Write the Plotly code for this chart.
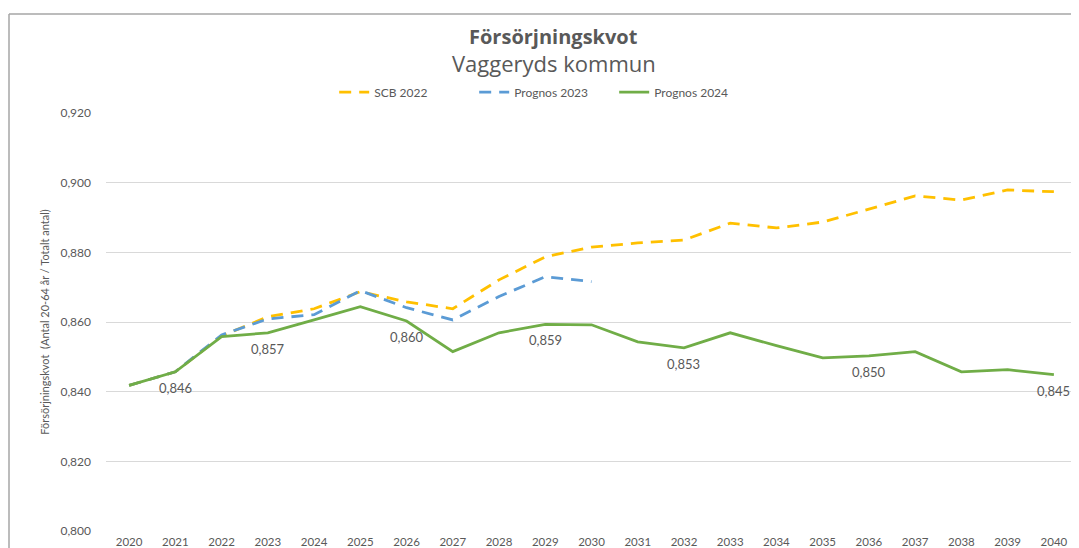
import plotly.graph_objects as go

years = [str(y) for y in range(2020, 2041)]

scb_2022 = [0.8418, 0.8457, 0.8560, 0.8615, 0.8638, 0.8687, 0.8658, 0.8638, 0.8721, 0.8787,
            0.8815, 0.8827, 0.8835, 0.8884, 0.8870, 0.8887, 0.8924, 0.8962, 0.8950, 0.8979, 0.8974]
prognos_2023 = [0.8418, 0.8457, 0.8563, 0.8609, 0.8621, 0.8690, 0.8641, 0.8606, 0.8673, 0.8730, 0.8716]
prognos_2024 = [0.8418, 0.8457, 0.8558, 0.8569, 0.8606, 0.8644, 0.8603, 0.8515, 0.8569, 0.8593,
                0.8592, 0.8543, 0.8526, 0.8569, 0.8532, 0.8497, 0.8503, 0.8515, 0.8457, 0.8463, 0.8449]
label_years = ["2021", "2023", "2026", "2029", "2032", "2036", "2040"]

FONT = "Lato, Open Sans, sans-serif"
TFONT = "Open Sans, Lato, sans-serif"
GRAY = "#595959"

fig = go.Figure()
fig.add_trace(go.Scatter(x=years, y=scb_2022, name="SCB 2022", mode="lines",
                         line=dict(color="#FFC000", width=2.8, dash="12px,8px")))
fig.add_trace(go.Scatter(x=years[:len(prognos_2023)], y=prognos_2023, name="Prognos 2023", mode="lines",
                         line=dict(color="#5B9BD5", width=2.8, dash="12px,8px")))
fig.add_trace(go.Scatter(x=years, y=prognos_2024, name="Prognos 2024", mode="lines",
                         line=dict(color="#70AD47", width=2.8)))

annotations = []
for i, (y, v) in enumerate(zip(years, prognos_2024)):
    if y in label_years:
        annotations.append(dict(x=i, y=v, xref="x", yref="y", text=f"{v:.3f}".replace(".", ","),
                                showarrow=False, yshift=-16,
                                font=dict(family=FONT, size=13, color=GRAY)))

# Titles (paper coords relative to plot area)
annotations.append(dict(x=0.461, y=1.184, xref="paper", yref="paper", text="<b>Försörjningskvot</b>",
                        showarrow=False, xanchor="center", yanchor="middle",
                        font=dict(family=TFONT, size=20, color=GRAY)))
annotations.append(dict(x=0.461, y=1.120, xref="paper", yref="paper", text="Vaggeryds kommun",
                        showarrow=False, xanchor="center", yanchor="middle",
                        font=dict(family=TFONT, size=22, color=GRAY)))

fig.update_layout(
    width=1071, height=540,
    margin=dict(l=98, r=2, t=105, b=17),
    paper_bgcolor="white", plot_bgcolor="white",
    separators=",.",
    font=dict(family=FONT, color=GRAY),
    legend=dict(orientation="h", x=0.235, xanchor="left", y=1.050, yanchor="middle",
                font=dict(family=FONT, size=12, color=GRAY),
                entrywidth=95, entrywidthmode="pixels"),
    xaxis=dict(type="category", range=[-0.5, 20.5], showgrid=False, automargin=False,
               showline=False, ticks="", ticklabelstandoff=2,
               tickfont=dict(family=FONT, size=11.5, color=GRAY)),
    yaxis=dict(range=[0.8, 0.92], dtick=0.02, tickformat=".3f", showgrid=True, automargin=False,
               gridcolor="#D9D9D9", gridwidth=1.2, zeroline=False, ticks="",
               ticklabelstandoff=14,
               tickfont=dict(family=FONT, size=12, color=GRAY),
               title=dict(text="Försörjningskvot  (Antal 20-64 år / Totalt antal)", standoff=8,
                          font=dict(family="Liberation Sans Narrow, Lato, sans-serif", size=11, color=GRAY))),
    annotations=annotations,
    shapes=[
        dict(type="line", xref="paper", yref="paper", x0=-0.0999, x1=1.1, y0=1.2368, y1=1.2368,
             line=dict(color="#A6A6A6", width=1.5)),
        dict(type="line", xref="paper", yref="paper", x0=-0.0999, x1=-0.0999, y0=-0.2, y1=1.2368,
             line=dict(color="#A6A6A6", width=1.5)),
    ],
)

fig.write_html("out.html")
